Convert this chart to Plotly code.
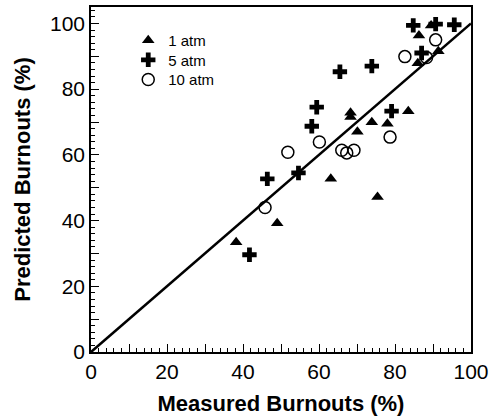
import plotly.graph_objects as go

# 1 atm (filled triangles)
atm1_measured = [38.2, 49.0, 63.1, 75.4, 68.3, 68.3, 70.1, 73.9, 78.0, 83.5, 86.0, 86.3, 89.5, 91.4]
atm1_predicted = [33.4, 39.2, 52.7, 47.2, 72.8, 71.5, 67.0, 69.9, 69.5, 73.3, 87.9, 96.3, 99.4, 91.5]

# 5 atm (bold plus)
atm5_measured = [41.7, 46.4, 54.6, 58.1, 59.4, 65.5, 73.9, 79.1, 84.8, 90.7, 95.6, 87.0]
atm5_predicted = [29.6, 52.7, 54.5, 68.7, 74.5, 85.3, 87.0, 73.3, 99.4, 99.8, 99.6, 91.0]

# 10 atm (open circles)
atm10_measured = [45.8, 51.8, 60.1, 66.0, 67.3, 69.2, 78.7, 82.6, 88.3, 90.7]
atm10_predicted = [44.0, 60.8, 63.9, 61.4, 60.6, 61.4, 65.4, 89.9, 89.6, 95.0]

# parity line
line_x = [0, 100]
line_y = [0, 100]

tick_vals = [0, 10, 20, 30, 40, 50, 60, 70, 80, 90, 100]
tick_text = ["0", "", "20", "", "40", "", "60", "", "80", "", "100"]

FONT = "Liberation Sans, Arial"

fig = go.Figure()
fig.add_trace(go.Scatter(x=line_x, y=line_y, mode="lines",
                         line=dict(color="black", width=2.5), showlegend=False))
fig.add_trace(go.Scatter(x=atm1_measured, y=atm1_predicted, mode="markers", name="1 atm",
                         legend="legend",
                         marker=dict(symbol="triangle-up", size=11, color="black")))
fig.add_trace(go.Scatter(x=atm5_measured, y=atm5_predicted, mode="markers", name="5 atm",
                         legend="legend2",
                         marker=dict(symbol="cross", size=12, color="black")))
fig.add_trace(go.Scatter(x=atm10_measured, y=atm10_predicted, mode="markers", name="10 atm",
                         legend="legend3",
                         marker=dict(symbol="circle-open", size=12, color="black",
                                     line=dict(width=1.5, color="black"))))

axis_common = dict(
    showgrid=False, zeroline=False, showline=True, linecolor="black", linewidth=1.5,
    mirror=True, ticks="inside", ticklen=8, tickwidth=1.2, tickcolor="black",
    tickmode="array", tickvals=tick_vals, ticktext=tick_text, automargin=False,
    tickfont=dict(family=FONT, size=21, color="black"),
    minor=dict(dtick=2, ticks="inside", ticklen=4, tickwidth=1, tickcolor="black"),
)

legend_common = dict(xanchor="left", yanchor="top", bgcolor="rgba(0,0,0,0)", borderwidth=0,
                     font=dict(family=FONT, size=15, color="black"))

fig.update_layout(
    width=491, height=420,
    margin=dict(l=91, r=20, t=7, b=68),
    plot_bgcolor="white", paper_bgcolor="white",
    xaxis=dict(range=[0, 100], **axis_common,
               title=dict(text="<b>Measured Burnouts (%)</b>", standoff=14,
                          font=dict(family=FONT, size=22, color="black"))),
    yaxis=dict(range=[0, 105], **axis_common,
               title=dict(text="<b>Predicted Burnouts (%)</b>", standoff=13,
                          font=dict(family=FONT, size=22, color="black"))),
    legend=dict(x=0.098, y=0.951, **legend_common),
    legend2=dict(x=0.098, y=0.894, **legend_common),
    legend3=dict(x=0.098, y=0.837, **legend_common),
    showlegend=True,
)

fig.write_html("out.html", config={"displayModeBar": False},
               post_script="document.body.style.margin='0px';document.body.style.overflow='hidden';")
